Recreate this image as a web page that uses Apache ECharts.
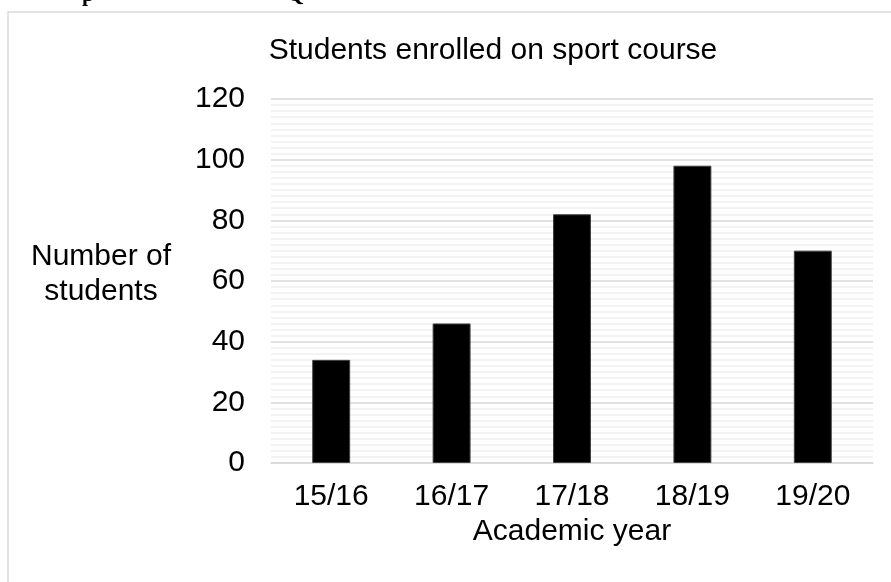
<!DOCTYPE html>
<html>
<head>
<meta charset="utf-8">
<script src="https://cdn.jsdelivr.net/npm/echarts@6/dist/echarts.min.js"></script>
<style>html,body{margin:0;padding:0;background:#fff}#c{width:891px;height:582px}</style>
</head>
<body>
<div id="c"></div>
<script>
var categories = ['15/16', '16/17', '17/18', '18/19', '19/20'];
var students = [34, 46, 82, 98, 70];
var titleText = 'Students enrolled on sport course';
var xName = 'Academic year';
var yName = 'Number of\nstudents';

var chart = echarts.init(document.getElementById('c'));
var font = '"Liberation Sans", Arial, sans-serif';
chart.setOption({
  animation: false,
  title: {
    text: titleText, left: 493, top: 36, textAlign: 'center', padding: 0,
    textStyle: {fontFamily: font, fontSize: 30, fontWeight: 'normal', color: '#000', lineHeight: 30}
  },
  grid: {left: 271, right: 18, top: 99, bottom: 119},
  xAxis: {
    type: 'category', data: categories,
    name: xName, nameLocation: 'middle', nameGap: 54,
    nameTextStyle: {fontFamily: font, fontSize: 30, color: '#000', lineHeight: 30},
    axisLine: {lineStyle: {color: '#d9d9d9', width: 1.5}},
    axisTick: {show: false},
    axisLabel: {fontFamily: font, fontSize: 30, color: '#000', margin: 19, lineHeight: 30}
  },
  yAxis: {
    type: 'value', min: 0, max: 120, interval: 20,
    axisLine: {show: false}, axisTick: {show: false},
    axisLabel: {fontFamily: font, fontSize: 30, color: '#000', margin: 26},
    splitLine: {lineStyle: {color: '#d9d9d9', width: 1.5}},
    minorTick: {show: false, splitNumber: 10},
    minorSplitLine: {show: true, lineStyle: {color: '#efefef', width: 1.5}}
  },
  series: [{
    type: 'bar', data: students, barWidth: '31.5%',
    itemStyle: {color: '#000', borderColor: '#404040', borderWidth: 1}
  }],
  graphic: [
    {type: 'rect', shape: {x: 8, y: 12, width: 900, height: 600}, style: {fill: 'none', stroke: '#d9d9d9', lineWidth: 1.5}},
    {type: 'text', x: 101, y: 274, style: {text: yName, align: 'center', verticalAlign: 'middle', font: '30px ' + font, lineHeight: 35, fill: '#000'}},
    {type: 'text', x: 82, y: -16, style: {text: 'p', font: 'bold 22px "Liberation Serif", serif', fill: '#000'}},
    {type: 'text', x: 287, y: -16, style: {text: 'Q', font: 'bold 22px "Liberation Serif", serif', fill: '#000'}}
  ]
});
</script>
</body>
</html>
